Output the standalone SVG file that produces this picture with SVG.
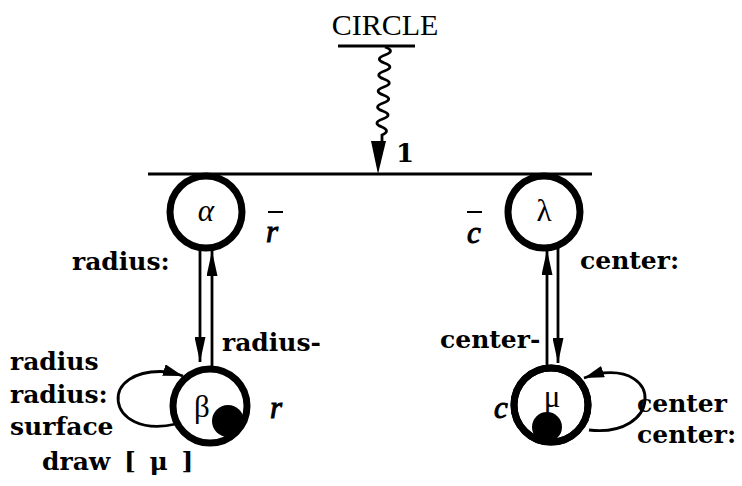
<svg xmlns="http://www.w3.org/2000/svg" width="742" height="486" viewBox="0 0 742 486">
<defs>
<style>
.lbl{font-family:"DejaVu Serif",serif;font-weight:700;font-size:25px;fill:#000}
.it{font-family:"Liberation Serif","Times New Roman",serif;font-style:italic;font-size:31px;fill:#000;stroke:#000;stroke-width:1}
.gr{font-family:"Liberation Serif","Times New Roman",serif;font-size:31px;fill:#000;text-anchor:middle}
.ring{fill:#fff;stroke:#000;stroke-width:7}
.ln{fill:none;stroke:#000;stroke-width:2.8}
.bar{stroke:#000;stroke-width:3}
</style>
<marker id="arr" markerUnits="userSpaceOnUse" markerWidth="25" markerHeight="11" viewBox="0 0 25 11" refX="25" refY="5.5" orient="auto">
<path d="M0,0 L25,5.5 L0,11 Z" fill="#000"/>
</marker>
<marker id="arrs" markerUnits="userSpaceOnUse" markerWidth="20" markerHeight="12" viewBox="0 0 20 12" refX="20" refY="6" orient="auto">
<path d="M0,0 L20,6 L0,12 Z" fill="#000"/>
</marker>
</defs>
<g id="circle-class">
<text x="385" y="35" text-anchor="middle" style="font-family:'Liberation Serif','Times New Roman',serif;font-size:30px">CIRCLE</text>
<line class="bar" x1="338" y1="46" x2="415" y2="46"/>
</g>
<g id="connectors">
<path class="ln" d="M385,47 q11,4 0,8 q-11,4 -0.6,8 q11,4 0,8 q-11,4 -0.6,8 q11,4 0,8 q-11,4 -0.6,8 q11,4 0,8 q-11,4 -0.6,8 q11,4 0,8 q-11,4 -0.6,8 q9,4 0,8 L382,143"/>
<polygon points="378,174 371,141 386,141" fill="#000"/>
<text class="lbl" x="396" y="162" style="font-size:26px">1</text>
<line class="bar" x1="148" y1="174" x2="592" y2="174"/>
<line class="ln" x1="200" y1="248" x2="200" y2="362" marker-end="url(#arr)"/>
<line class="ln" x1="212" y1="366" x2="212" y2="251" marker-end="url(#arr)"/>
<line class="ln" x1="547" y1="365" x2="547" y2="250" marker-end="url(#arr)"/>
<line class="ln" x1="558" y1="247" x2="558" y2="363" marker-end="url(#arr)"/>
<path class="ln" d="M176,424 C105,440 95,365 170,372 L183,376" marker-end="url(#arrs)"/>
<path class="ln" d="M589,430 C660,438 665,362 596,374 L584,378" marker-end="url(#arrs)"/>
<text class="lbl" x="72" y="270">radius:</text>
<text class="lbl" x="222" y="351">radius-</text>
<text class="lbl" x="580" y="269">center:</text>
<text class="lbl" x="440" y="348">center-</text>
</g>
<g id="alpha">
<circle class="ring" cx="206" cy="212" r="36"/>
<text class="gr" x="206" y="221" style="font-style:italic">α</text>
<text class="it" x="266" y="242">r</text>
<line class="bar" x1="268" y1="212" x2="283" y2="212" style="stroke-width:2"/>
</g>
<g id="lambda">
<circle class="ring" cx="544" cy="212" r="36"/>
<text class="gr" x="544" y="221">λ</text>
<text class="it" x="467" y="243">c</text>
<line class="bar" x1="467" y1="212" x2="482" y2="212" style="stroke-width:2"/>
</g>
<g id="beta">
<circle class="ring" cx="210" cy="406" r="37"/>
<circle cx="228" cy="421" r="16" fill="#000"/>
<text class="gr" x="202" y="417">β</text>
<text class="it" x="270" y="418">r</text>
<text class="lbl" x="10" y="370">radius</text>
<text class="lbl" x="10" y="403">radius:</text>
<text class="lbl" x="10" y="435">surface</text>
<text class="lbl" x="42" y="470" style="word-spacing:5px">draw [ μ ]</text>
</g>
<g id="mu">
<circle class="ring" cx="551" cy="405" r="37"/>
<circle cx="547" cy="427" r="15" fill="#000"/>
<circle class="ring" cx="551" cy="405" r="37" style="fill:none"/>
<text class="gr" x="552" y="407">μ</text>
<text class="it" x="494" y="418">c</text>
<text class="lbl" x="637" y="412">center</text>
<text class="lbl" x="637" y="443">center:</text>
</g>
</svg>
